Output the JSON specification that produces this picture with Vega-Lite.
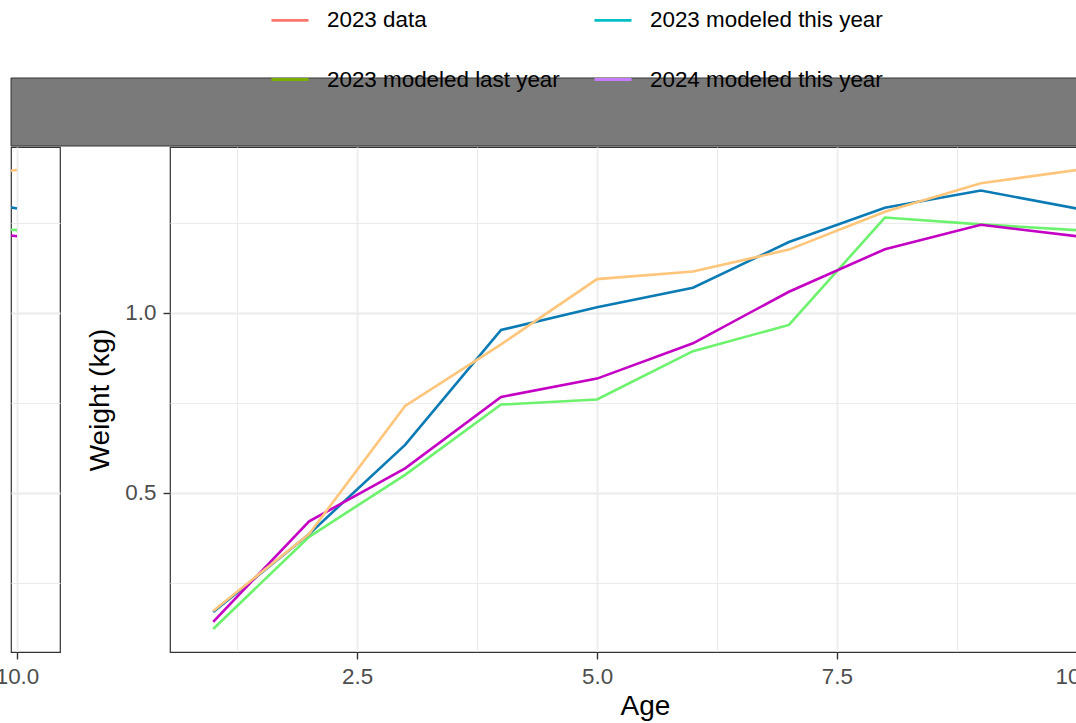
{
  "$schema": "https://vega.github.io/schema/vega-lite/v6.json",
  "padding": {"left": -6, "top": 0, "right": 0, "bottom": 0},
  "background": "white",
  "config": {
    "font": "Liberation Sans",
    "view": {"stroke": "#333333", "strokeWidth": 1.2},
    "axis": {
      "gridColor": "#EBEBEB",
      "domainColor": "#333333",
      "domainWidth": 1.2,
      "tickColor": "#333333",
      "tickWidth": 1.4,
      "tickSize": 7,
      "labelColor": "#4D4D4D",
      "labelFont": "Liberation Sans",
      "labelFontSize": 22.4,
      "titleFont": "Liberation Sans",
      "titleFontSize": 28,
      "titleFontWeight": "normal",
      "titleColor": "#000000",
      "labelFlush": false,
      "labelOverlap": false,
      "labelBound": false
    }
  },
  "datasets": {
    "keys": [
      {"key": "2023 data"},
      {"key": "2023 modeled this year"},
      {"key": "2023 modeled last year"},
      {"key": "2024 modeled this year"}
    ],
    "w": [
      {"series": "2023 data", "age": 1, "weight": 0.122},
      {"series": "2023 data", "age": 2, "weight": 0.378},
      {"series": "2023 data", "age": 3, "weight": 0.55},
      {"series": "2023 data", "age": 4, "weight": 0.745},
      {"series": "2023 data", "age": 5, "weight": 0.759},
      {"series": "2023 data", "age": 6, "weight": 0.893},
      {"series": "2023 data", "age": 7, "weight": 0.966},
      {"series": "2023 data", "age": 8, "weight": 1.264},
      {"series": "2023 data", "age": 9, "weight": 1.245},
      {"series": "2023 data", "age": 10, "weight": 1.229},
      {"series": "2023 modeled this year", "age": 1, "weight": 0.169},
      {"series": "2023 modeled this year", "age": 2, "weight": 0.386},
      {"series": "2023 modeled this year", "age": 3, "weight": 0.633},
      {"series": "2023 modeled this year", "age": 4, "weight": 0.952},
      {"series": "2023 modeled this year", "age": 5, "weight": 1.015},
      {"series": "2023 modeled this year", "age": 6, "weight": 1.069},
      {"series": "2023 modeled this year", "age": 7, "weight": 1.196},
      {"series": "2023 modeled this year", "age": 8, "weight": 1.291},
      {"series": "2023 modeled this year", "age": 9, "weight": 1.339},
      {"series": "2023 modeled this year", "age": 10, "weight": 1.289},
      {"series": "2023 modeled last year", "age": 1, "weight": 0.142},
      {"series": "2023 modeled last year", "age": 2, "weight": 0.421},
      {"series": "2023 modeled last year", "age": 3, "weight": 0.568},
      {"series": "2023 modeled last year", "age": 4, "weight": 0.766},
      {"series": "2023 modeled last year", "age": 5, "weight": 0.817},
      {"series": "2023 modeled last year", "age": 6, "weight": 0.915},
      {"series": "2023 modeled last year", "age": 7, "weight": 1.058},
      {"series": "2023 modeled last year", "age": 8, "weight": 1.176},
      {"series": "2023 modeled last year", "age": 9, "weight": 1.244},
      {"series": "2023 modeled last year", "age": 10, "weight": 1.212},
      {"series": "2024 modeled this year", "age": 1, "weight": 0.172},
      {"series": "2024 modeled this year", "age": 2, "weight": 0.386},
      {"series": "2024 modeled this year", "age": 3, "weight": 0.741},
      {"series": "2024 modeled this year", "age": 4, "weight": 0.912},
      {"series": "2024 modeled this year", "age": 5, "weight": 1.093},
      {"series": "2024 modeled this year", "age": 6, "weight": 1.114},
      {"series": "2024 modeled this year", "age": 7, "weight": 1.175},
      {"series": "2024 modeled this year", "age": 8, "weight": 1.28},
      {"series": "2024 modeled this year", "age": 9, "weight": 1.359},
      {"series": "2024 modeled this year", "age": 10, "weight": 1.396}
    ]
  },
  "bounds": "flush",
  "spacing": 1,
  "vconcat": [
    {
      "width": 1109,
      "height": 68,
      "data": {"values": [{"strip": ""}]},
      "mark": {"type": "rect", "color": "#7A7A7A", "stroke": "#333333", "strokeWidth": 1},
      "encoding": {}
    },
    {
      "bounds": "flush",
      "spacing": 110,
      "hconcat": [
        {
          "width": 49,
          "height": 505,
          "data": {"name": "w"},
          "mark": {"type": "line", "clip": true, "strokeWidth": 2.6},
          "encoding": {
            "x": {
              "field": "age", "type": "quantitative",
              "scale": {"domain": [9.9375, 10.448], "nice": false, "zero": false},
              "axis": {"values": [10], "format": ".1f", "title": null, "labelPadding": 6, "gridWidth": 1.8}
            },
            "y": {
              "field": "weight", "type": "quantitative",
              "scale": {"domain": [0.0583, 1.4597], "nice": false, "zero": false},
              "axis": {
                "values": [0.25, 0.5, 0.75, 1, 1.25],
                "labels": false, "ticks": false, "domain": false, "title": null,
                "gridWidth": {"condition": {"test": "datum.value % 0.5 === 0", "value": 1.8}, "value": 1.1}
              }
            },
            "stroke": {
              "field": "series", "type": "nominal",
              "scale": {
                "range": ["#6CF26C", "#C400C4", "#0A7BB5", "#FFC57A"]
              },
              "legend": null
            }
          }
        },
        {
          "width": 950,
          "height": 505,
          "encoding": {
            "x": {
              "field": "age", "type": "quantitative",
              "scale": {"domain": [0.55, 10.45], "nice": false, "zero": false},
              "axis": {
                "values": [1.25, 2.5, 3.75, 5, 6.25, 7.5, 8.75, 10],
                "labelExpr": "datum.value % 2.5 === 0 ? format(datum.value, '.1f') : ''",
                "title": "Age",
                "labelPadding": 6,
                "titlePadding": 5,
                "tickOpacity": {"condition": {"test": "datum.value % 2.5 === 0", "value": 1}, "value": 0},
                "gridWidth": {"condition": {"test": "datum.value % 2.5 === 0", "value": 1.8}, "value": 1.1}
              }
            },
            "y": {
              "field": "weight", "type": "quantitative",
              "scale": {"domain": [0.0583, 1.4597], "nice": false, "zero": false},
              "axis": {
                "values": [0.25, 0.5, 0.75, 1, 1.25],
                "labelExpr": "datum.value % 0.5 === 0 ? format(datum.value, '.1f') : ''",
                "title": "Weight (kg)",
                "domain": false,
                "labelPadding": 7,
                "titlePadding": 10,
                "tickOpacity": {"condition": {"test": "datum.value % 0.5 === 0", "value": 1}, "value": 0},
                "gridWidth": {"condition": {"test": "datum.value % 0.5 === 0", "value": 1.8}, "value": 1.1}
              }
            }
          },
          "layer": [
            {
              "data": {"name": "w"},
              "mark": {"type": "line", "clip": true, "strokeWidth": 2.6},
              "encoding": {
                "stroke": {"field": "series", "type": "nominal", "legend": null}
              }
            },
            {
              "data": {"name": "keys"},
              "transform": [{"filter": "false"}],
              "mark": {"type": "line"},
              "encoding": {
                "color": {
                  "field": "key", "type": "nominal",
                  "scale": {
                    "domain": ["2023 data", "2023 modeled this year", "2023 modeled last year", "2024 modeled this year"],
                    "range": ["#F8766D", "#00BFC4", "#7CAE00", "#C77CFF"]
                  },
                  "legend": {
                    "title": null,
                    "orient": "none",
                    "direction": "horizontal",
                    "legendX": 259,
                    "legendY": -78,
                    "columns": 2,
                    "padding": 0,
                    "symbolType": "stroke",
                    "symbolSize": 1369,
                    "symbolStrokeWidth": 2.8,
                    "labelFont": "Liberation Sans",
                    "labelFontSize": 22.4,
                    "labelColor": "#000000",
                    "labelOffset": 17,
                    "labelLimit": 0,
                    "columnPadding": 28,
                    "rowPadding": 27.5
                  }
                }
              }
            }
          ]
        }
      ]
    }
  ]
}
